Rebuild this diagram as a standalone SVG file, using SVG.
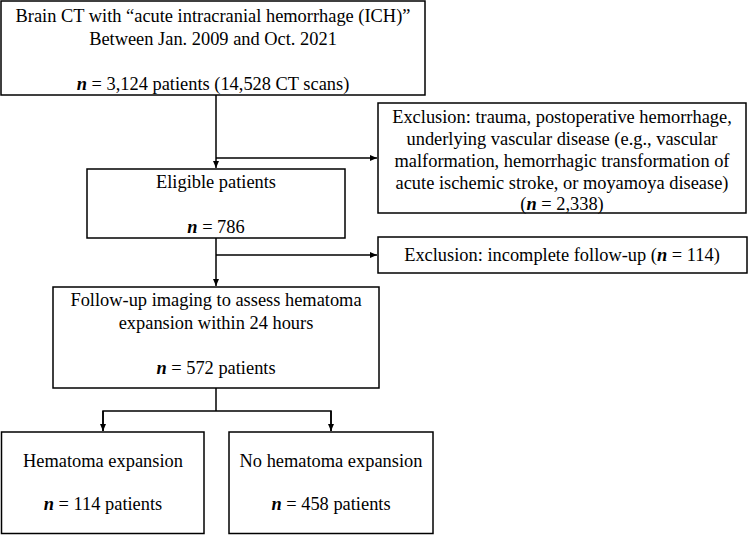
<svg xmlns="http://www.w3.org/2000/svg" width="749" height="535" viewBox="0 0 749 535">
<style>
.box{fill:#fff;stroke:#000;stroke-width:1.5}
.t{font-family:'Liberation Serif','Times New Roman',Times,'DejaVu Serif',serif;font-size:18.4px;fill:#000;text-anchor:middle}
.n{font-style:italic;font-weight:bold}
.c{fill:none;stroke:#000;stroke-width:1.5}
</style>
<defs>
<marker id="ah" markerWidth="8" markerHeight="8" refX="7" refY="4" orient="auto" markerUnits="userSpaceOnUse">
<path d="M0,1 L7,4 L0,7 Z" fill="#000"/>
</marker>
</defs>
<rect width="749" height="535" fill="#fff"/>
<g id="connectors">
<line class="c" x1="216" y1="95" x2="216" y2="168" marker-end="url(#ah)"/>
<line class="c" x1="216" y1="158" x2="377" y2="158" marker-end="url(#ah)"/>
<line class="c" x1="216" y1="238" x2="216" y2="286" marker-end="url(#ah)"/>
<line class="c" x1="216" y1="255" x2="377" y2="255" marker-end="url(#ah)"/>
<line class="c" x1="216" y1="388" x2="216" y2="411"/>
<polyline class="c" points="103,431 103,411 331,411 331,431"/>
<line class="c" x1="103" y1="411" x2="103" y2="431" marker-end="url(#ah)"/>
<line class="c" x1="331" y1="411" x2="331" y2="431" marker-end="url(#ah)"/>
</g>
<g id="n1">
<rect class="box" x="1" y="1" width="424" height="94"/>
<text class="t" x="213" y="22">Brain CT with “acute intracranial hemorrhage (ICH)”</text>
<text class="t" x="213" y="45">Between Jan. 2009 and Oct. 2021</text>
<text class="t" x="213" y="90"><tspan class="n">n</tspan> = 3,124 patients (14,528 CT scans)</text>
</g>
<g id="n2">
<rect class="box" x="378" y="103" width="368" height="110"/>
<text class="t" x="562" y="123">Exclusion: trauma, postoperative hemorrhage,</text>
<text class="t" x="562" y="145">underlying vascular disease (e.g., vascular</text>
<text class="t" x="562" y="167">malformation, hemorrhagic transformation of</text>
<text class="t" x="562" y="189">acute ischemic stroke, or moyamoya disease)</text>
<text class="t" x="562" y="210">(<tspan class="n">n</tspan> = 2,338)</text>
</g>
<g id="n3">
<rect class="box" x="87" y="169" width="258" height="69"/>
<text class="t" x="216" y="188">Eligible patients</text>
<text class="t" x="216" y="233"><tspan class="n">n</tspan> = 786</text>
</g>
<g id="n4">
<rect class="box" x="378" y="237" width="369" height="36"/>
<text class="t" x="562" y="261">Exclusion: incomplete follow-up (<tspan class="n">n</tspan> = 114)</text>
</g>
<g id="n5">
<rect class="box" x="53" y="287" width="326" height="101"/>
<text class="t" x="216" y="306">Follow-up imaging to assess hematoma</text>
<text class="t" x="216" y="329">expansion within 24 hours</text>
<text class="t" x="216" y="374"><tspan class="n">n</tspan> = 572 patients</text>
</g>
<g id="n6">
<rect class="box" x="1.5" y="432" width="202.5" height="101.5"/>
<text class="t" x="103" y="467">Hematoma expansion</text>
<text class="t" x="103" y="510"><tspan class="n">n</tspan> = 114 patients</text>
</g>
<g id="n7">
<rect class="box" x="229" y="432" width="204" height="101.5"/>
<text class="t" x="331" y="467">No hematoma expansion</text>
<text class="t" x="331" y="510"><tspan class="n">n</tspan> = 458 patients</text>
</g>
</svg>
